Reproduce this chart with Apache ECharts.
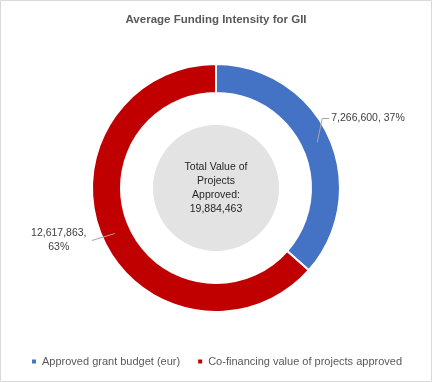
<!DOCTYPE html>
<html><head><meta charset="utf-8">
<script src="https://cdn.jsdelivr.net/npm/echarts@6/dist/echarts.min.js"></script>
<style>html,body{margin:0;padding:0;background:#fff}#c{width:432px;height:382px}</style>
</head><body><div id="c"></div>
<script>
const categories = ['Approved grant budget (eur)', 'Co-financing value of projects approved'];
const values = [7266600, 12617863];
const colors = ['#4472C4', '#C00000'];
const titleText = 'Average Funding Intensity for GII';
const centerText = 'Total Value of\nProjects\nApproved:\n19,884,463';
const FONT = 'Liberation Sans';

const chart = echarts.init(document.getElementById('c'), null, {renderer: 'canvas'});
const fmt = v => v.toLocaleString('en-US');

function layoutLabel(p) {
  const pts = p.labelLinePoints;
  if (!pts || pts.length < 2) return {};
  const p0 = pts[0], p1 = pts[1];
  const dx = p1[0] - p0[0], dy = p1[1] - p0[1];
  const len = Math.hypot(dx, dy) || 1;
  const ux = dx / len, uy = dy / len;
  // start line in the middle of the ring
  const s = [p0[0] - ux * 13, p0[1] - uy * 13];
  if (p.dataIndex === 0) {
    const ly = s[1] - 24;
    const m = [s[0] + 5, ly];
    const e = [s[0] + 12, ly];
    return {x: e[0] + 2, y: ly, align: 'left', verticalAlign: 'middle', labelLinePoints: [s, m, e]};
  } else {
    const e = [s[0] - 23, s[1] + 7];
    return {x: e[0] - 4, y: e[1], align: 'right', verticalAlign: 'middle', labelLinePoints: [s, e, e]};
  }
}

const ringData = categories.map((n, i) => ({name: n, value: values[i], itemStyle: {color: colors[i]}}));

chart.setOption({
  animation: false,
  title: {
    text: titleText, left: 'center', top: 9,
    textStyle: {fontFamily: FONT, fontSize: 11.5, fontWeight: 'bold', color: '#595959'}
  },
  legend: {
    bottom: 10, left: 'center', icon: 'rect', itemWidth: 6, itemHeight: 6, itemGap: 16,
    textStyle: {fontFamily: FONT, fontSize: 11, color: '#595959'},
    data: categories
  },
  graphic: [{
    type: 'rect', shape: {x: 0.5, y: 0.5, width: 431, height: 381},
    style: {fill: 'none', stroke: '#d9d9d9', lineWidth: 1}, silent: true
  }],
  series: [
    {
      type: 'pie', center: [216, 188], radius: [0, 63], silent: true, z: 1,
      data: [{value: 1, name: 'total'}],
      itemStyle: {color: '#e3e3e3'},
      label: {position: 'center', formatter: centerText, fontFamily: FONT, fontSize: 10.5,
              lineHeight: 14, color: '#262626'},
      labelLine: {show: false}, legendHoverLink: false
    },
    {
      type: 'pie', center: [216, 188], radius: [95, 124], startAngle: 90, clockwise: true, z: 2,
      data: ringData,
      itemStyle: {borderColor: '#fff', borderWidth: 2},
      label: {show: false}, labelLine: {show: false}
    },
    {
      type: 'pie', center: [216, 188], radius: [95, 124], startAngle: 90, clockwise: true, z: 3,
      silent: true,
      data: categories.map((n, i) => ({name: n, value: values[i]})),
      itemStyle: {color: 'rgba(0,0,0,0)', borderWidth: 0},
      percentPrecision: 0,
      label: {
        show: true, position: 'outside', fontFamily: FONT, fontSize: 10.5, color: '#404040',
        lineHeight: 14, overflow: 'none', edgeDistance: 5,
        formatter: p => p.dataIndex === 0 ? fmt(p.value) + ', ' + p.percent + '%' : '{a|' + fmt(p.value) + ',}\n{a|' + p.percent + '%}',
        rich: {a: {width: 58, align: 'center', fontFamily: FONT, fontSize: 10.5, color: '#404040', lineHeight: 14}}
      },
      labelLine: {show: true, length: 6, length2: 4, lineStyle: {color: '#a6a6a6', width: 1}},
      labelLayout: layoutLabel
    }
  ]
});
</script></body></html>
